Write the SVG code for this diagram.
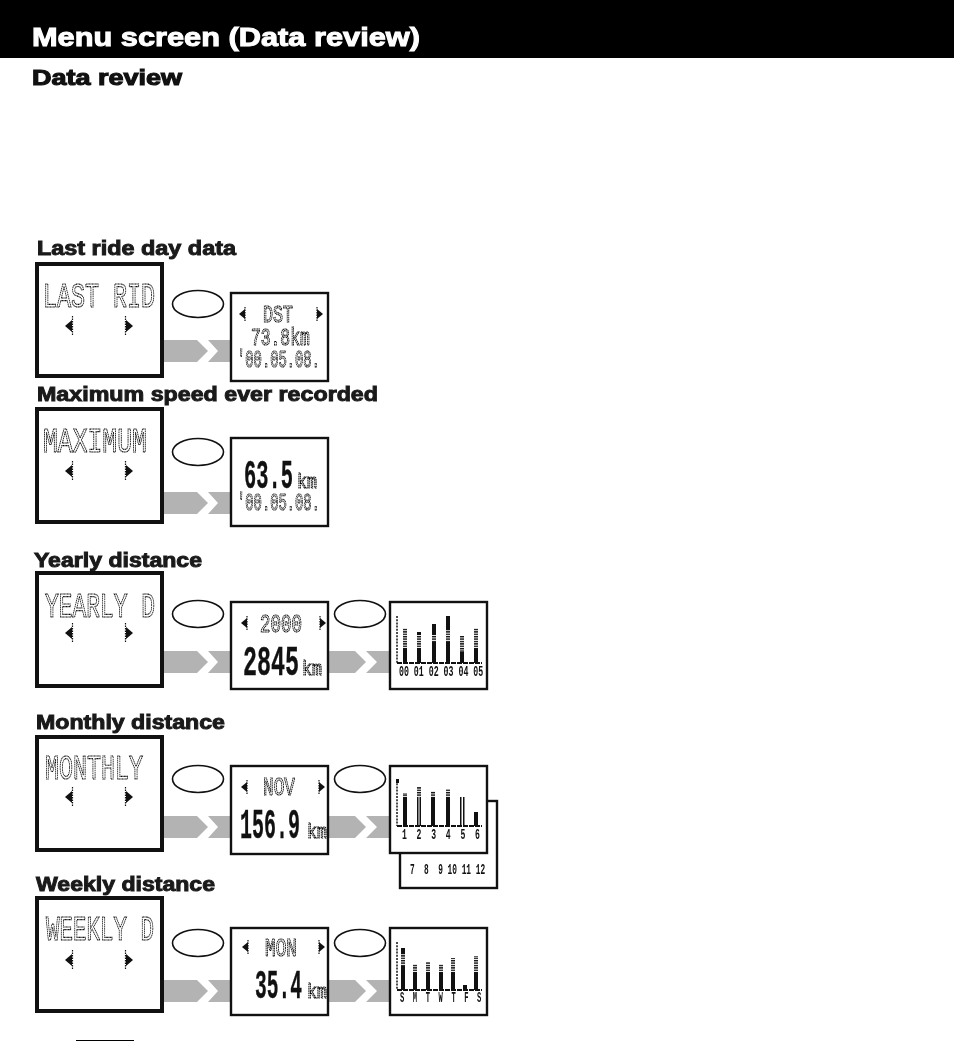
<svg xmlns="http://www.w3.org/2000/svg" width="954" height="1059" viewBox="0 0 954 1059">
<style>
text{font-family:"Liberation Sans",Arial,sans-serif;filter:url(#gs)}
.h{font-weight:bold;fill:#1a1a1a;stroke:#1a1a1a;stroke-width:.95;font-size:20px}
.big{fill:#fff;stroke:#111;stroke-width:4}
.small{fill:#fff;stroke:#111;stroke-width:2.4}
.oval{fill:#fff;stroke:#111;stroke-width:1.6}
.arrow{fill:#b3b3b3;stroke:none}
.lcd{font-family:"Liberation Mono",monospace;fill:none;stroke:#000;stroke-width:1.15;stroke-dasharray:1.6 .6}
.num{font-family:"Liberation Mono",monospace;font-weight:bold;fill:#111;stroke:#111;stroke-width:.4}
.lab{font-family:"Liberation Mono",monospace;fill:#111;font-size:14px;font-weight:bold}
.tick{fill:url(#st)}
.bar{fill:#111}
.ax{stroke:#111;stroke-width:1.5;stroke-dasharray:2 1.2;fill:none}
.base{stroke:#111;stroke-width:2;stroke-dasharray:5 1;fill:none}
.tri{fill:#111}
.stem{stroke:#111;stroke-width:1.2;stroke-dasharray:1.5 1;fill:none}
</style>
<defs>
<filter id="gs" x="-10%" y="-30%" width="120%" height="160%" color-interpolation-filters="sRGB"><feOffset dx="0" dy="0"/></filter>
<pattern id="st" width="4" height="2.4" patternUnits="userSpaceOnUse"><rect width="4" height="1.4" fill="#111"/></pattern>
<g id="a1"><polygon class="arrow" points="164,0 197,0 208,11 197,22 164,22"/><polygon class="arrow" points="208,0 232,0 232,22 208,22 218,11"/></g>
<g id="a2"><polygon class="arrow" points="329,0 355,0 366,11 355,22 329,22"/><polygon class="arrow" points="366,0 390,0 390,22 366,22 377,11"/></g>
<g id="la"><path class="stem" d="M7.500 -10V10"/><polygon class="tri" points="0,0 7,-6 7,6"/></g>
<g id="ra"><path class="stem" d="M0.500 -10V10"/><polygon class="tri" points="8,0 1,-6 1,6"/></g>
<g id="sl"><path class="stem" d="M6 -7V7"/><polygon class="tri" points="0,0 6,-5 6,5"/></g>
<g id="sr"><path class="stem" d="M1 -7V7"/><polygon class="tri" points="7,0 1,-5 1,5"/></g>
</defs>
<rect id="header-band" width="954" height="58" fill="#000"/>
<text id="title" x="32" y="46" font-size="26" font-weight="bold" fill="#fff" stroke="#fff" stroke-width="1" textLength="388" lengthAdjust="spacingAndGlyphs">Menu screen (Data review)</text>
<text id="subtitle" x="32" y="85" font-size="22" font-weight="bold" fill="#111" stroke="#111" stroke-width="1.1" textLength="150" lengthAdjust="spacingAndGlyphs">Data review</text>
<text class="h" x="37" y="255" textLength="199" lengthAdjust="spacingAndGlyphs">Last ride day data</text>
<text class="h" x="37" y="401" textLength="341" lengthAdjust="spacingAndGlyphs">Maximum speed ever recorded</text>
<text class="h" x="34" y="567" textLength="168" lengthAdjust="spacingAndGlyphs">Yearly distance</text>
<text class="h" x="36" y="729" textLength="189" lengthAdjust="spacingAndGlyphs">Monthly distance</text>
<text class="h" x="36" y="891" textLength="179" lengthAdjust="spacingAndGlyphs">Weekly distance</text>

<g id="connectors">
<use href="#a1" x="0" y="340"/>
<use href="#a1" x="0" y="492"/>
<use href="#a1" x="0" y="651"/>
<use href="#a2" x="0" y="651"/>
<use href="#a1" x="0" y="816"/>
<use href="#a2" x="0" y="816"/>
<use href="#a1" x="0" y="980"/>
<use href="#a2" x="0" y="980"/>
</g>

<g id="last-menu">
<rect class="big" x="37" y="264" width="125" height="112"/>
<text class="lcd" transform="translate(43 307) scale(.648 1)" font-size="36">LAST RID</text>
<use href="#la" x="65" y="326"/><use href="#ra" x="125" y="326"/>
</g>
<g id="last-button"><ellipse class="oval" cx="198" cy="304" rx="25.500" ry="13.500"/></g>
<g id="last-detail">
<rect class="small" x="231" y="293" width="97" height="88"/>
<use href="#sl" x="239" y="314"/><use href="#sr" x="316" y="314"/>
<text class="lcd" transform="translate(263 322) scale(.694 1)" font-size="24">DST</text>
<text class="lcd" transform="translate(251 345) scale(.68 1)" font-size="24" stroke-width="1.6">73.8km</text>
<text class="lcd" transform="translate(237 367) scale(.576 1)" font-size="24">'00.05.08.</text>
</g>

<g id="maximum-menu">
<rect class="big" x="37" y="409" width="125" height="113"/>
<text class="lcd" transform="translate(43 452) scale(.707 1)" font-size="35">MAXIMUM</text>
<use href="#la" x="65" y="471"/><use href="#ra" x="125" y="471"/>
</g>
<g id="maximum-button"><ellipse class="oval" cx="198" cy="452" rx="25.500" ry="13.500"/></g>
<g id="maximum-detail">
<rect class="small" x="231" y="438" width="97" height="88"/>
<text class="num" transform="translate(244 488) scale(.51 1)" font-size="40">63.5</text>
<text class="lcd" transform="translate(297 488) scale(.83 1)" font-size="20">km</text>
<text class="lcd" transform="translate(237 510) scale(.576 1)" font-size="24">'00.05.08.</text>
</g>

<g id="yearly-menu">
<rect class="big" x="37" y="573" width="125" height="113"/>
<text class="lcd" transform="translate(45 617) scale(.637 1)" font-size="36">YEARLY D</text>
<use href="#la" x="65" y="633"/><use href="#ra" x="125" y="633"/>
</g>
<g id="yearly-button"><ellipse class="oval" cx="198" cy="614" rx="25.500" ry="13.500"/></g>
<g id="yearly-detail">
<rect class="small" x="231" y="602" width="97" height="87"/>
<use href="#sl" x="241" y="623"/><use href="#sr" x="319" y="623"/>
<text class="lcd" transform="translate(260 632) scale(.7 1)" font-size="25">2000</text>
<text class="num" transform="translate(243 675) scale(.556 1)" font-size="42">2845</text>
<text class="lcd" transform="translate(302 675) scale(.83 1)" font-size="20">km</text>
</g>
<g id="yearly-chart-button"><ellipse class="oval" cx="360" cy="614" rx="25.500" ry="13.500"/></g>
<g id="yearly-chart">
<rect class="small" x="390" y="602" width="97" height="87"/>
<path class="ax" d="M397 616V663"/><path class="base" d="M397 663H482"/>
<rect class="tick" x="403" y="628" width="4" height="20"/><rect class="bar" x="403" y="648" width="4" height="15"/>
<rect class="tick" x="417" y="632" width="4" height="16"/><rect class="bar" x="417" y="632" width="4" height="3"/><rect class="bar" x="417" y="648" width="4" height="15"/>
<rect class="tick" x="432" y="624" width="4" height="18"/><rect class="bar" x="432" y="624" width="4" height="11"/><rect class="bar" x="432" y="642" width="4" height="21"/>
<rect class="tick" x="446" y="630" width="4" height="12"/><rect class="bar" x="446" y="616" width="4" height="14"/><rect class="bar" x="446" y="642" width="4" height="21"/>
<rect class="tick" x="460" y="636" width="4" height="16"/><rect class="bar" x="460" y="652" width="4" height="11"/>
<rect class="tick" x="474" y="628" width="4" height="20"/><rect class="bar" x="474" y="648" width="4" height="15"/>
<text class="lab" transform="translate(399 676) scale(.59 1)">00 01 02 03 04 05</text>
</g>

<g id="monthly-menu">
<rect class="big" x="37" y="737" width="125" height="113"/>
<text class="lcd" transform="translate(45 779) scale(.648 1)" font-size="36">MONTHLY</text>
<use href="#la" x="65" y="797"/><use href="#ra" x="125" y="797"/>
</g>
<g id="monthly-button"><ellipse class="oval" cx="198" cy="779" rx="25.500" ry="13.500"/></g>
<g id="monthly-detail">
<rect class="small" x="231" y="766" width="97" height="88"/>
<use href="#sl" x="241" y="787"/><use href="#sr" x="318" y="787"/>
<text class="lcd" transform="translate(263 795) scale(.711 1)" font-size="25">NOV</text>
<text class="num" transform="translate(240 838) scale(.476 1)" font-size="42">156.9</text>
<text class="lcd" transform="translate(307 838) scale(.83 1)" font-size="20">km</text>
</g>
<g id="monthly-chart-button"><ellipse class="oval" cx="360" cy="779" rx="25.500" ry="13.500"/></g>
<g id="monthly-chart-back">
<rect class="small" x="400" y="801" width="97" height="87"/>
<text class="lab" transform="translate(410 874) scale(.56 1)" xml:space="preserve">7  8  9 10 11 12</text>
</g>
<g id="monthly-chart">
<rect class="small" x="390" y="766" width="97" height="87"/>
<path class="ax" d="M397 780V826"/><path class="base" d="M397 826H482"/>
<rect class="bar" x="396" y="779" width="3" height="4"/>
<rect class="tick" x="403" y="793" width="4" height="4"/><rect class="bar" x="403" y="797" width="4" height="29"/>
<rect class="tick" x="417" y="787" width="4" height="10"/><rect class="bar" x="417" y="797" width="1.500" height="29"/><rect class="bar" x="419.500" y="797" width="1.500" height="29"/>
<rect class="tick" x="431" y="791" width="4" height="6"/><rect class="bar" x="431" y="797" width="4" height="29"/>
<rect class="tick" x="446" y="789" width="4" height="8"/><rect class="bar" x="446" y="797" width="4" height="29"/>
<rect class="bar" x="460" y="797" width="1.500" height="29"/><rect class="bar" x="463" y="797" width="1.500" height="29"/>
<rect class="bar" x="474" y="812" width="4" height="14"/>
<text class="lab" transform="translate(402 839) scale(.58 1)" xml:space="preserve">1  2  3  4  5  6</text>
</g>

<g id="weekly-menu">
<rect class="big" x="37" y="898" width="125" height="113"/>
<text class="lcd" transform="translate(46 940) scale(.625 1)" font-size="36">WEEKLY D</text>
<use href="#la" x="65" y="960"/><use href="#ra" x="125" y="960"/>
</g>
<g id="weekly-button"><ellipse class="oval" cx="198" cy="943" rx="25.500" ry="13.500"/></g>
<g id="weekly-detail">
<rect class="small" x="231" y="928" width="97" height="87"/>
<use href="#sl" x="242" y="947"/><use href="#sr" x="318" y="947"/>
<text class="lcd" transform="translate(265 956) scale(.711 1)" font-size="25">MON</text>
<text class="num" transform="translate(255 998) scale(.49 1)" font-size="40">35.4</text>
<text class="lcd" transform="translate(307 998) scale(.83 1)" font-size="20">km</text>
</g>
<g id="weekly-chart-button"><ellipse class="oval" cx="360" cy="943" rx="25.500" ry="13.500"/></g>
<g id="weekly-chart">
<rect class="small" x="390" y="928" width="97" height="87"/>
<path class="ax" d="M397 942V990"/><path class="base" d="M397 990H482"/>
<rect class="bar" x="401" y="948" width="4" height="6"/><rect class="tick" x="401" y="954" width="4" height="12"/><rect class="bar" x="401" y="966" width="4" height="24"/>
<rect class="tick" x="413" y="964" width="4" height="8"/><rect class="bar" x="413" y="972" width="4" height="18"/>
<rect class="tick" x="426" y="962" width="4" height="10"/><rect class="bar" x="426" y="972" width="4" height="18"/>
<rect class="tick" x="439" y="964" width="4" height="8"/><rect class="bar" x="439" y="972" width="4" height="18"/>
<rect class="tick" x="451" y="958" width="4" height="14"/><rect class="bar" x="451" y="972" width="4" height="18"/>
<rect class="bar" x="463" y="985" width="4" height="5"/>
<rect class="tick" x="474" y="956" width="4" height="16"/><rect class="bar" x="474" y="972" width="4" height="18"/>
<text class="lab" transform="translate(400 1002) scale(.51 1)" xml:space="preserve">S  M  T  W  T  F  S</text>
</g>
<line id="footer-rule" x1="76" y1="1040.500" x2="134" y2="1040.500" stroke="#000" stroke-width="1"/>
</svg>
